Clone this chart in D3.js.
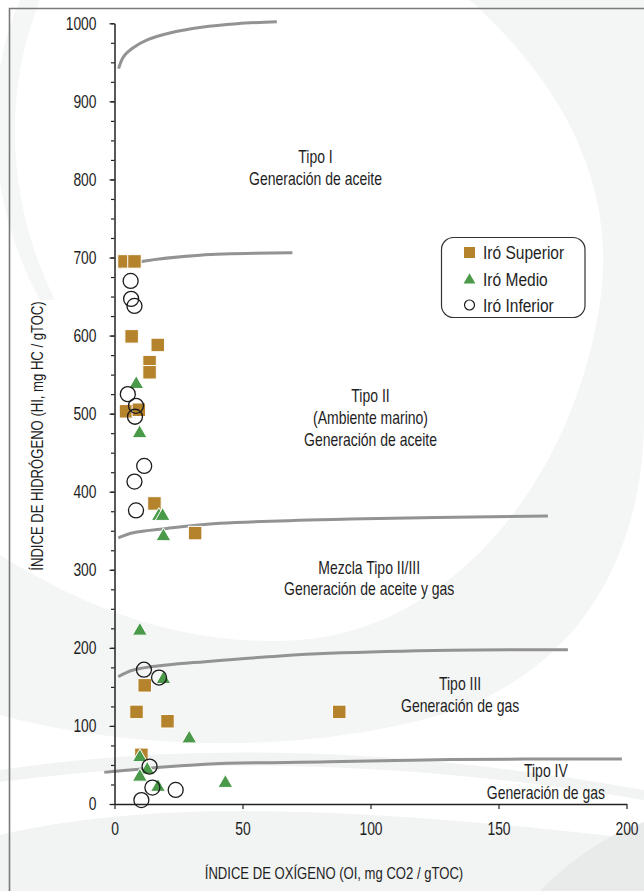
<!DOCTYPE html>
<html>
<head>
<meta charset="utf-8">
<script src="https://cdn.jsdelivr.net/npm/d3@7"></script>
<style>
  html, body { margin: 0; padding: 0; background: #fff; }
  svg { display: block; }
  svg text { font-family: "Liberation Sans", Arial, sans-serif; fill: #1e1e1e; }
  /* narrow the sans face to a condensed look */
  .nx text, text.nx { transform-box: fill-box; transform-origin: center; }
  .nr text { transform-box: fill-box; transform-origin: right center; }
  .nl text, text.nl { transform-box: fill-box; transform-origin: left center; }
</style>
</head>
<body>
<svg id="chart" width="644" height="891"></svg>
<script>
// Kerogen classification (pseudo Van Krevelen): HI vs OI
const seriesNames = ["Iró Superior", "Iró Medio", "Iró Inferior"];

// [OI, HI]
const iroSuperior = [
  [3.9, 695], [7.8, 695], [6.7, 599], [16.9, 588], [13.7, 566], [13.7, 553],
  [4.5, 503], [9.5, 505], [15.6, 385], [31.5, 347], [11.8, 152], [8.6, 118],
  [20.7, 106], [10.5, 63], [87.8, 118]
];
const iroMedio = [
  [8.5, 539], [9.8, 476], [17.3, 370], [18.8, 370], [19.1, 344], [9.9, 223],
  [19.1, 161], [29.2, 85], [9.9, 61], [12.8, 45], [9.9, 36], [17.0, 23], [43.3, 28]
];
const iroInferior = [
  [6.3, 670], [6.5, 647], [7.8, 638], [5.2, 525], [8.4, 510], [8.0, 496],
  [11.6, 433], [7.8, 413], [8.4, 376], [11.5, 172], [17.4, 162], [13.7, 48],
  [14.8, 21], [23.9, 18], [10.5, 5]
];

// Kerogen type boundary curves [OI, HI]
const boundaryI = [[1.6, 942], [3.5, 957], [7, 968], [13, 979], [22, 988], [34, 995], [48, 999.5], [63.4, 1002]];
const boundaryII = [[1.8, 687], [5, 691], [10.6, 695], [33.4, 703], [69.5, 706]];
const boundaryIIIII = [[1.5, 341], [7.3, 347.5], [20.4, 353], [41.2, 359.5], [92, 365], [169.3, 369]];
const boundaryIII = [[1.5, 163], [7.3, 171.6], [20.4, 178], [35.4, 182.3], [64.6, 189.6], [83.6, 193], [131.7, 197], [177.1, 197.5]];
const boundaryIV = [[-4, 40.5], [0.5, 42], [35.5, 51], [83.6, 54], [131.7, 57], [198.2, 57.6]];
const boundaries = [boundaryI, boundaryII, boundaryIIIII, boundaryIII, boundaryIV];

// Region annotations: [OI, HI of first baseline, lines]
const regionLabels = [
  [78.5, 821, ["Tipo I", "Generación de aceite"]],
  [100, 515, ["Tipo II", "(Ambiente marino)", "Generación de aceite"]],
  [99.5, 295, ["Mezcla Tipo II/III", "Generación de aceite y gas"]],
  [135, 146, ["Tipo III", "Generación de gas"]],
  [168.5, 34, ["Tipo IV", "Generación de gas"]]
];

const xTicks = [0, 50, 100, 150, 200];
const yTicks = d3.range(0, 1001, 100);
const yMinorTicks = d3.range(0, 1001, 25);
const xTitle = "ÍNDICE DE OXÍGENO (OI, mg CO2 / gTOC)";
const yTitle = "ÍNDICE DE HIDRÓGENO (HI, mg HC / gTOC)";

const colors = { sup: "#b5832b", med: "#4a9a4a", inf: "#1b1b1b" };

const svg = d3.select("#chart");

// soft decorative swirl in the background
const deco = svg.append("g");
deco.append("path")
  .attr("d", "M470,0 C590,110 620,220 595,330 C560,500 440,630 300,640 C180,648 80,605 0,555 L0,715 C130,750 300,755 440,715 C590,670 644,540 644,420 L644,0 Z")
  .attr("fill", "#f4f5f5");
deco.append("path")
  .attr("d", "M20,0 C-20,90 -10,210 40,300 L55,300 C10,210 0,100 40,0 Z")
  .attr("fill", "#f5f6f6");
deco.append("path")
  .attr("d", "M0,835 C150,800 350,805 644,840 L644,891 L0,891 Z")
  .attr("fill", "#f2f3f3");
deco.append("path")
  .attr("d", "M540,891 C580,850 620,830 644,822 L644,891 Z")
  .attr("fill", "#e9eaea");
deco.append("path")
  .attr("d", "M0,770 C200,740 420,750 644,790 L644,800 C420,762 200,755 0,782 Z")
  .attr("fill", "#f2f3f3");

// outer frame
svg.append("path")
  .attr("d", "M9.5,891 L9.5,8.5 L644,8.5")
  .attr("fill", "none")
  .attr("stroke", "#7a7a7a")
  .attr("stroke-width", 1.6);

const x = d3.scaleLinear().domain([0, 200]).range([114.5, 626.5]);
const y = d3.scaleLinear().domain([0, 1000]).range([804, 23.3]);

// boundary curves
const line = d3.line().x(d => x(d[0])).y(d => y(d[1])).curve(d3.curveCatmullRom.alpha(0.5));
svg.append("g").selectAll("path").data(boundaries).join("path")
  .attr("d", line)
  .attr("fill", "none")
  .attr("stroke", "#939393")
  .attr("stroke-width", 3)
  .attr("stroke-linecap", "butt");

// axes
const yMinor = svg.append("g").attr("transform", `translate(${x(0)},0)`)
  .call(d3.axisLeft(y).tickValues(yMinorTicks).tickSize(3.5).tickFormat(""));
yMinor.select(".domain").remove();
const yAxis = svg.append("g").attr("class", "nr").attr("transform", `translate(${x(0)},0)`)
  .call(d3.axisLeft(y).tickValues(yTicks).tickFormat(d3.format("d")).tickSize(5).tickPadding(13).tickSizeOuter(0));
const xAxis = svg.append("g").attr("class", "nx").attr("transform", `translate(0,${y(0)})`)
  .call(d3.axisBottom(x).tickValues(xTicks).tickFormat(d3.format("d")).tickSize(5).tickPadding(13).tickSizeOuter(0));
[yAxis, xAxis, yMinor].forEach(g => {
  g.attr("font-family", null);
  g.selectAll("line").attr("stroke", "#222").attr("stroke-width", 1.2);
  g.selectAll(".domain").attr("stroke", "#222").attr("stroke-width", 1.5);
  g.selectAll("text").attr("font-size", 18).style("transform", "scaleX(0.77)");
});

// axis titles
svg.append("text").attr("class", "nx")
  .attr("x", 334).attr("y", 879.5)
  .attr("text-anchor", "middle").attr("font-size", 17)
  .style("transform", "scaleX(0.77)")
  .text(xTitle);
svg.append("g").attr("transform", "translate(43,436) rotate(-90)")
  .append("text").attr("class", "nx")
  .attr("text-anchor", "middle").attr("font-size", 17)
  .style("transform", "scaleX(0.77)")
  .text(yTitle);

// region annotations
const ann = svg.append("g").attr("class", "nx").attr("font-size", 17.5).attr("text-anchor", "middle");
regionLabels.forEach(([ox, hi, lines]) => {
  const t = ann.append("text").attr("x", x(ox)).attr("y", y(hi)).style("transform", "scaleX(0.8)");
  lines.forEach((s, i) => t.append("tspan").attr("x", x(ox)).attr("dy", i === 0 ? 0 : 21.8).text(s));
});

// markers
const sq = 13.5;
svg.append("g").selectAll("rect").data(iroSuperior).join("rect")
  .attr("x", d => x(d[0]) - sq / 2).attr("y", d => y(d[1]) - sq / 2)
  .attr("width", sq).attr("height", sq)
  .attr("fill", colors.sup).attr("stroke", "#fff").attr("stroke-width", 1);

const tri = d3.symbol().type(d3.symbolTriangle).size(95);
svg.append("g").selectAll("path").data(iroMedio).join("path")
  .attr("d", tri)
  .attr("transform", d => `translate(${x(d[0])},${y(d[1]) + 1})`)
  .attr("fill", colors.med).attr("stroke", "#fff").attr("stroke-width", 1);

svg.append("g").selectAll("circle").data(iroInferior).join("circle")
  .attr("cx", d => x(d[0])).attr("cy", d => y(d[1])).attr("r", 7.5)
  .attr("fill", "none").attr("stroke", colors.inf).attr("stroke-width", 1.3);

// legend
const lg = svg.append("g").attr("class", "nl");
lg.append("rect").attr("x", 441.5).attr("y", 237.5).attr("width", 143.5).attr("height", 80)
  .attr("rx", 12).attr("fill", "#fff").attr("stroke", "#333").attr("stroke-width", 1.2);
const rows = [252.5, 279, 305];
lg.append("rect").attr("x", 464).attr("y", rows[0] - 5.5).attr("width", 11).attr("height", 11).attr("fill", colors.sup);
lg.append("path").attr("d", d3.symbol().type(d3.symbolTriangle).size(60)).attr("transform", `translate(469.5,${rows[1] + 1})`).attr("fill", colors.med);
lg.append("circle").attr("cx", 469.5).attr("cy", rows[2]).attr("r", 5).attr("fill", "none").attr("stroke", colors.inf).attr("stroke-width", 1.2);
lg.selectAll("text.lab").data(seriesNames).join("text").attr("class", "lab")
  .attr("x", 483).attr("y", (d, i) => rows[i]).attr("dy", "0.36em")
  .attr("font-size", 18.5).style("transform", "scaleX(0.84)").text(d => d);
</script>
</body>
</html>
